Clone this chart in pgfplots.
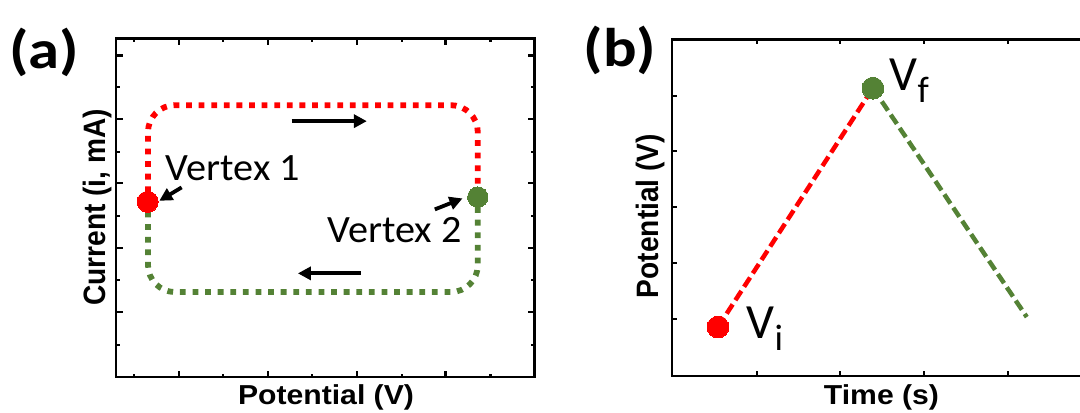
\documentclass[border=0pt]{standalone}
\usepackage{pgfplots}
\pgfplotsset{compat=1.18}
\usepackage{fontspec}
\setmainfont{Carlito}
\newfontfamily\arialfont{Liberation Sans}
\usetikzlibrary{arrows.meta}
\definecolor{myred}{RGB}{255,0,0}
\definecolor{mygreen}{RGB}{84,130,53}
\pgfplotsset{
  panel/.style={
    x=0.01cm, y=0.01cm,
    anchor=south west,
    axis line style={line width=0.75pt, black},
    every tick/.style={line width=0.75pt, black},
    tick align=inside,
    xticklabels={}, yticklabels={},
    clip=false,
  },
  dotline/.style={line width=0.058cm, dash pattern=on 0.058cm off 0.068cm, rounded corners=0.27cm},
  dashline/.style={line width=0.045cm, dash pattern=on 0.11cm off 0.05cm},
}
\tikzset{annarrow/.style={line width=0.038cm, -{Triangle[length=0.13cm, width=0.13cm]}}}
\begin{document}
\begin{tikzpicture}
\path[use as bounding box, clip] (0,0) rectangle (10.8cm,4.12cm);
% ---------------- panel (a)
\begin{axis}[panel, at={(1.16cm,0.35cm)},
  xmin=116, xmax=535, ymin=35, ymax=374,
  xtick={179,268,357,446}, minor xtick={134,223,312,402,491},
  ytick={100,164,229,293,357}, minor ytick={67,132,196,260,325},
  major tick length=0.065cm, minor tick length=0.035cm]
\addplot[myred, dotline] coordinates {(148,220) (148,307) (478,307) (478,225)};
\addplot[mygreen, dotline] coordinates {(478,205) (478,120) (148,120) (148,200)};
\addplot[only marks, mark=*, mark size=3pt, mark options={fill=myred, draw=myred, line width=0pt}] coordinates {(147.7,210.3)};
\addplot[only marks, mark=*, mark size=2.9pt, mark options={fill=mygreen, draw=mygreen, line width=0pt}] coordinates {(478,215)};
\draw[annarrow] (axis cs:291.7,291) -- (axis cs:367,291);
\draw[annarrow] (axis cs:361,138.7) -- (axis cs:298,138.7);
\draw[annarrow] (axis cs:181.7,224.7) -- (axis cs:159.3,211.3);
\draw[annarrow] (axis cs:435,202.7) -- (axis cs:462.7,213.7);
\node[anchor=base west, inner sep=0] at (axis cs:165,232) {\fontsize{11}{12}\selectfont\scalebox{1.04}[1]{Vertex 1}};
\node[anchor=base west, inner sep=0] at (axis cs:327,169.7) {\fontsize{11}{12}\selectfont\scalebox{1.04}[1]{Vertex 2}};
\end{axis}
% ---------------- panel (b)
\begin{axis}[panel, at={(6.72cm,0.36cm)},
  xmin=672, xmax=1110, ymin=36, ymax=373,
  xtick={757,840,924,1008}, ytick={93,149,205,261,316},
  major tick length=0.05cm]
\addplot[myred, dashline] coordinates {(718,85) (873,324)};
\addplot[mygreen, dashline] coordinates {(873,324) (1027,95)};
\addplot[only marks, mark=*, mark size=3.1pt, mark options={fill=myred, draw=myred, line width=0pt}] coordinates {(718,85)};
\addplot[only marks, mark=*, mark size=3.1pt, mark options={fill=mygreen, draw=mygreen, line width=0pt}] coordinates {(873,324)};
\node[anchor=base west, inner sep=0] at (axis cs:889,322) {\fontsize{14}{15}\selectfont V\raisebox{-0.25em}{\fontsize{10.5}{11}\selectfont f}};
\node[anchor=base west, inner sep=0] at (axis cs:746,73.7) {\fontsize{14}{15}\selectfont V\raisebox{-0.25em}{\fontsize{10.5}{11}\selectfont i}};
\end{axis}
% ---------------- labels
\node[anchor=center, inner sep=0] at (0.44cm,3.6cm) {\fontsize{15.5}{16}\bfseries\selectfont\scalebox{1.15}[1]{(a)}};
\node[anchor=center, inner sep=0] at (6.2cm,3.62cm) {\fontsize{15.5}{16}\bfseries\selectfont\scalebox{1.15}[1]{(b)}};
\node[anchor=base, inner sep=0] at (3.26cm,0.075cm) {\arialfont\bfseries\fontsize{7.8}{8}\selectfont\scalebox{1.1}[1]{Potential (V)}};
\node[anchor=base, inner sep=0] at (8.815cm,0.075cm) {\arialfont\bfseries\fontsize{7.8}{8}\selectfont\scalebox{1.1}[1]{Time (s)}};
\node[anchor=base, inner sep=0, rotate=90] at (1.06cm,2.045cm) {\arialfont\bfseries\fontsize{8}{9}\selectfont\scalebox{1}[1.1]{Current (i, mA)}};
\node[anchor=base, inner sep=0, rotate=90] at (6.58cm,1.96cm) {\arialfont\bfseries\fontsize{8}{9}\selectfont\scalebox{1}[1.1]{Potential (V)}};
\end{tikzpicture}
\end{document}
